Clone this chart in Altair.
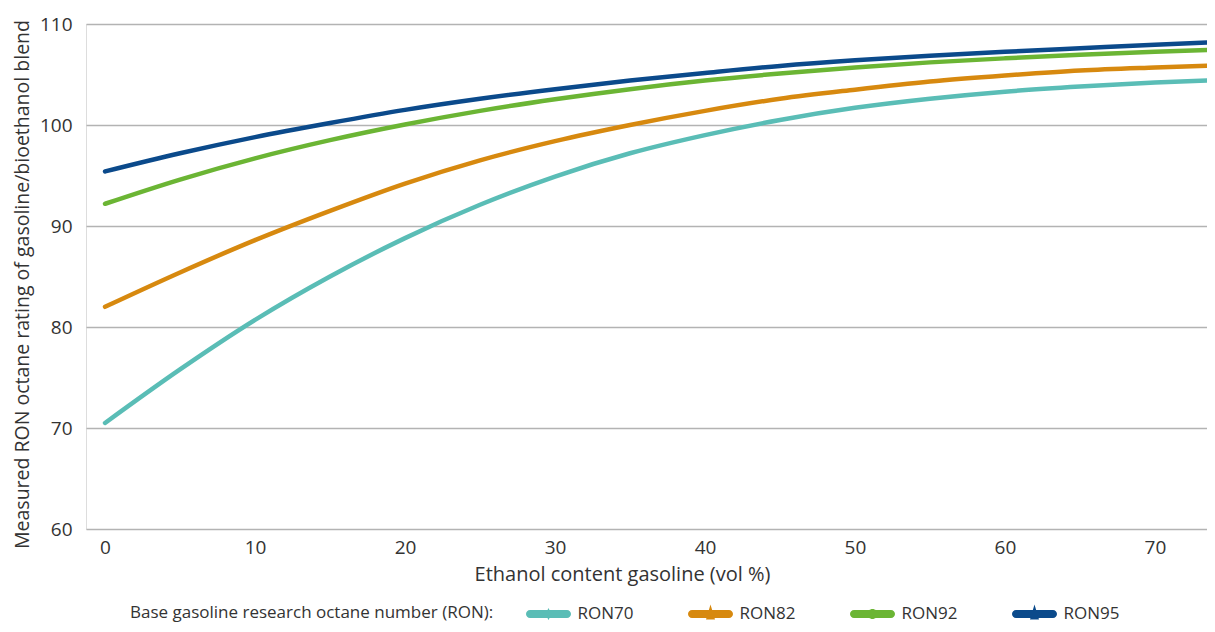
import altair as alt
import pandas as pd

# Ethanol content (vol %)
ethanol = [0, 5, 10, 15, 20, 25, 30, 35, 40, 45, 50, 55, 60, 65, 70, 74]

# Measured RON of blend for each base gasoline
ron70 = [70.5, 75.8, 80.7, 85.0, 88.8, 92.1, 94.9, 97.2, 99.0, 100.5, 101.7, 102.6, 103.3, 103.8, 104.2, 104.45]
ron82 = [82.0, 85.4, 88.6, 91.5, 94.2, 96.5, 98.4, 100.0, 101.4, 102.6, 103.5, 104.3, 104.9, 105.4, 105.7, 105.9]
ron92 = [92.2, 94.6, 96.7, 98.5, 100.05, 101.4, 102.55, 103.55, 104.4, 105.1, 105.7, 106.2, 106.6, 106.95, 107.25, 107.45]
ron95 = [95.4, 97.2, 98.8, 100.2, 101.5, 102.6, 103.55, 104.4, 105.15, 105.85, 106.4, 106.85, 107.25, 107.6, 107.95, 108.2]

series_names = ["RON70", "RON82", "RON92", "RON95"]
series_values = [ron70, ron82, ron92, ron95]
series_colors = ["#5abdb6", "#d7890f", "#6bb534", "#0b4a8b"]

x_ticks = [0, 10, 20, 30, 40, 50, 60, 70]
y_ticks = [60, 70, 80, 90, 100, 110]

rows = []
for name, vals in zip(series_names, series_values):
    for xv, yv in zip(ethanol, vals):
        rows.append({"ethanol": xv, "ron": yv, "series": name})
df = pd.DataFrame(rows)

# legend symbols: rounded bar with a marker (unit space scaled by sqrt(size)/2 = 10px)
bar = "M-1.85,-0.4 L1.85,-0.4 A0.4,0.4 0 0 1 1.85,0.4 L-1.85,0.4 A0.4,0.4 0 0 1 -1.85,-0.4 Z "
sym_diamond = bar + "M0,-0.6 L0.3,0 L0,0.6 L-0.3,0 Z"
sym_triangle = bar + "M0,-0.95 L0.45,0.55 L-0.45,0.55 Z"
sym_circle = bar + "M-0.5,0 A0.5,0.5 0 1 1 0.5,0 A0.5,0.5 0 1 1 -0.5,0 Z"
shapes = [sym_diamond, sym_triangle, sym_circle, sym_triangle]

FONT = "Open Sans"
TXT = "#333333"

legend = alt.Legend(
    title="Base gasoline research octane number (RON):",
    orient="none",
    legendX=44,
    legendY=580,
    direction="horizontal",
    titleOrient="left",
    titleFontSize=17,
    titleFontWeight="normal",
    titleColor=TXT,
    titleFont=FONT,
    titleLimit=600,
    titlePadding=32,
    labelFontSize=17,
    labelFont=FONT,
    labelColor=TXT,
    symbolSize=400,
    symbolOffset=12.5,
    labelOffset=19,
    columnPadding=54,
    symbolOpacity=1,
    symbolStrokeWidth=0,
)

color = alt.Color(
    "series:N",
    scale=alt.Scale(domain=series_names, range=series_colors),
    legend=legend,
)
shape = alt.Shape(
    "series:N",
    scale=alt.Scale(domain=series_names, range=shapes),
    legend=legend,
)

xenc = alt.X(
    "ethanol:Q",
    scale=alt.Scale(domain=[-1.27, 73.47], nice=False, zero=False),
    axis=alt.Axis(
        title="Ethanol content gasoline (vol %)",
        values=x_ticks,
        grid=False,
        domain=False,
        ticks=False,
        labelFontSize=19,
        labelFont=FONT,
        labelColor=TXT,
        labelPadding=9,
        titleFontSize=20,
        titleFont=FONT,
        titleFontWeight="normal",
        titleColor=TXT,
        titlePadding=7,
        titleX=536,
        titleAlign="center",
    ),
)
yenc = alt.Y(
    "ron:Q",
    scale=alt.Scale(domain=[60, 110], nice=False, zero=False),
    axis=alt.Axis(
        title="Measured RON octane rating of gasoline/bioethanol blend",
        values=y_ticks,
        grid=True,
        gridColor="#b3b3b3",
        gridWidth=1.3,
        domain=False,
        ticks=False,
        labelFontSize=19,
        labelFont=FONT,
        labelColor=TXT,
        labelPadding=14,
        titleFontSize=19.5,
        titleFont=FONT,
        titleFontWeight="normal",
        titleColor=TXT,
        titlePadding=7,
        titleY=260,
    ),
)

lines = alt.Chart(df).mark_line(
    strokeWidth=4.5, strokeCap="round", interpolate="monotone", clip=True
).encode(x=xenc, y=yenc, color=color)

points = alt.Chart(df).mark_point(
    filled=True, opacity=0, size=400, clip=True
).encode(x="ethanol:Q", y="ron:Q", color=color, shape=shape)

chart = (
    alt.layer(lines, points)
    .properties(
        width=1121,
        height=505,
        autosize=alt.AutoSizeParams(type="none"),
        padding={"left": 78, "top": 16, "right": 0, "bottom": 95},
    )
    .configure_view(stroke=None)
    .configure(font=FONT)
)

chart.save("out.html", embed_options={"renderer": "svg", "actions": False})
